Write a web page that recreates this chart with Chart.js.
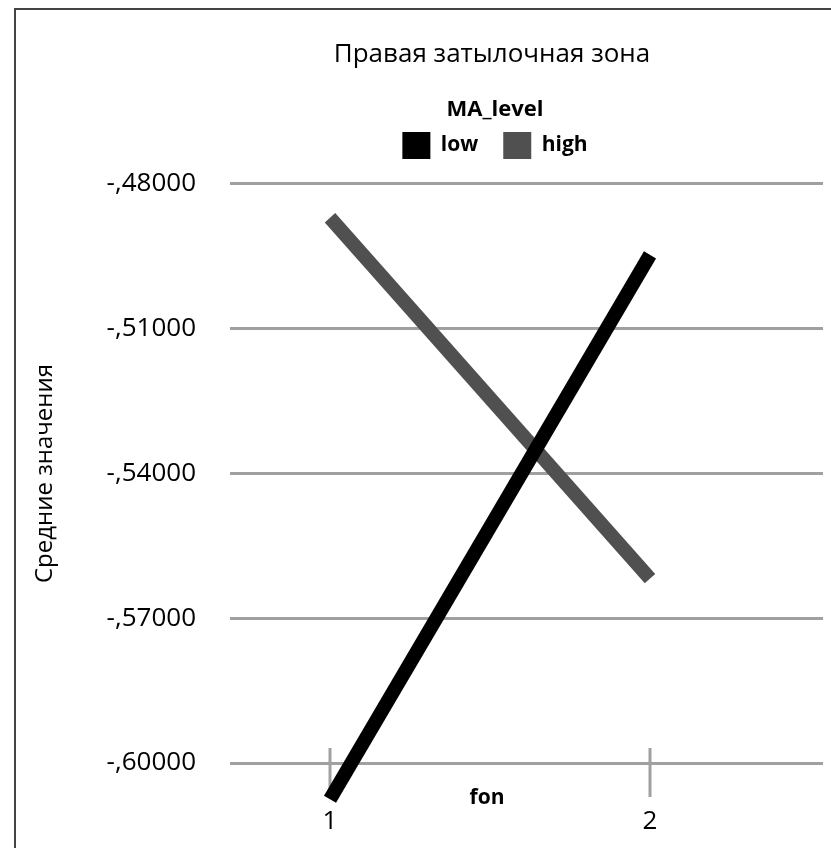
<!DOCTYPE html>
<html lang="ru">
<head>
<meta charset="UTF-8">
<title>Правая затылочная зона</title>
<script src="https://cdn.jsdelivr.net/npm/chart.js@4.4.1/dist/chart.umd.min.js"></script>
<style>
    body {
        margin: 0;
        background: #fff;
    }
    .wrap {
        position: relative;
        width: 831px;
        height: 848px;
        overflow: hidden;
    }
    .frame {
        position: absolute;
        left: 14px;
        top: 8px;
        width: 900px;
        height: 900px;
        border-left: 2px solid #444;
        border-top: 2px solid #444;
        pointer-events: none;
    }
</style>
</head>
<body>
<div class="wrap">
    <canvas id="chart" width="831" height="848"></canvas>
    <div class="frame"></div>
</div>
<script>
// means by fon level, for each MA_level group
const fonLevels = [1, 2];
const lowMeans = [-0.6075, -0.4947];
const highMeans = [-0.4870, -0.5618];
const yTicks = [-0.48, -0.51, -0.54, -0.57, -0.60];
const groupNames = ['low', 'high'];
const groupColors = ['#000000', '#505050'];

const FONT = '"Open Sans", "DejaVu Sans", sans-serif';
const GRID = '#a0a0a0';

function points(values) {
    return fonLevels.map((x, i) => ({ x: x, y: values[i] }));
}

const extras = {
    id: 'extras',
    // title and legend are centred a bit right of the canvas middle
    afterLayout(chart) {
        chart.titleBlock.left = 161;
        chart.legend.left = 167;
        [chart.titleBlock, chart.legend].forEach(box => {
            box.right = 823;
            box.width = box.right - box.left;
        });
    },
    // short tick marks across the axis at 1 and 2
    beforeDatasetsDraw(chart) {
        const { ctx, scales: { x, y } } = chart;
        const base = y.getPixelForValue(-0.60);
        ctx.save();
        ctx.strokeStyle = GRID;
        ctx.lineWidth = 3;
        fonLevels.forEach(v => {
            const px = x.getPixelForValue(v);
            ctx.beginPath();
            ctx.moveTo(px, base - 15);
            ctx.lineTo(px, base + 34);
            ctx.stroke();
        });
        ctx.restore();
    },
    // axis titles
    afterDraw(chart) {
        const { ctx, scales: { x, y } } = chart;
        ctx.save();
        ctx.fillStyle = '#000';
        ctx.textAlign = 'center';
        ctx.textBaseline = 'middle';

        ctx.font = 'bold 21px ' + FONT;
        const midX = (x.getPixelForValue(1) + x.getPixelForValue(2)) / 2 - 3;
        ctx.fillText('fon', midX, y.getPixelForValue(-0.60) + 35);

        const midY = (y.getPixelForValue(-0.48) + y.getPixelForValue(-0.60)) / 2;
        ctx.translate(45, midY);
        ctx.rotate(-Math.PI / 2);
        ctx.font = '24px ' + FONT;
        ctx.fillText('Средние значения', 0, 0);
        ctx.restore();
    }
};

new Chart(document.getElementById('chart'), {
    type: 'line',
    data: {
        datasets: [
            {
                label: groupNames[0],
                data: points(lowMeans),
                borderColor: groupColors[0],
                backgroundColor: groupColors[0]
            },
            {
                label: groupNames[1],
                data: points(highMeans),
                borderColor: groupColors[1],
                backgroundColor: groupColors[1]
            }
        ]
    },
    options: {
        responsive: false,
        animation: false,
        devicePixelRatio: 1,
        clip: false,
        layout: {
            padding: { left: 14, right: 8, top: 0, bottom: 13 }
        },
        elements: {
            line: { borderWidth: 14, borderCapStyle: 'butt', tension: 0 },
            point: { radius: 0, hoverRadius: 0 }
        },
        plugins: {
            tooltip: { enabled: false },
            title: {
                display: true,
                text: 'Правая затылочная зона',
                color: '#000',
                font: { family: FONT, size: 26, weight: 'normal' },
                padding: { top: 39, bottom: 0 }
            },
            legend: {
                display: true,
                title: {
                    display: true,
                    text: 'MA_level',
                    color: '#000',
                    font: { family: FONT, size: 22, weight: 'bold' },
                    padding: { top: 29, bottom: -18.6 }
                },
                labels: {
                    boxWidth: 28,
                    boxHeight: 27,
                    padding: 25,
                    color: '#000',
                    font: { family: FONT, size: 21, weight: 'bold' },
                    generateLabels(chart) {
                        return chart.data.datasets.map((d, i) => ({
                            text: d.label,
                            fillStyle: d.borderColor,
                            strokeStyle: d.borderColor,
                            lineWidth: 0,
                            fontColor: '#000',
                            datasetIndex: i
                        }));
                    }
                }
            }
        },
        scales: {
            x: {
                type: 'linear',
                min: 0.6875,
                max: 2.5406,
                afterBuildTicks(s) {
                    s.ticks = fonLevels.map(v => ({ value: v }));
                },
                afterFit(s) {
                    s.height = 72;
                },
                grid: { display: false, drawTicks: false },
                border: { display: false },
                ticks: {
                    padding: 43,
                    color: '#000',
                    font: { family: FONT, size: 26 },
                    callback: v => String(v)
                }
            },
            y: {
                min: -0.60,
                max: -0.4769,
                afterBuildTicks(s) {
                    s.ticks = yTicks.map(v => ({ value: v }));
                },
                afterFit(s) {
                    s.width = 216;
                },
                grid: { color: GRID, lineWidth: 3, drawTicks: false },
                border: { display: false },
                ticks: {
                    padding: 34,
                    color: '#000',
                    font: { family: FONT, size: 26 },
                    callback: v => v.toFixed(5).replace('0.', ',')
                }
            }
        }
    },
    plugins: [extras]
});
</script>
</body>
</html>
